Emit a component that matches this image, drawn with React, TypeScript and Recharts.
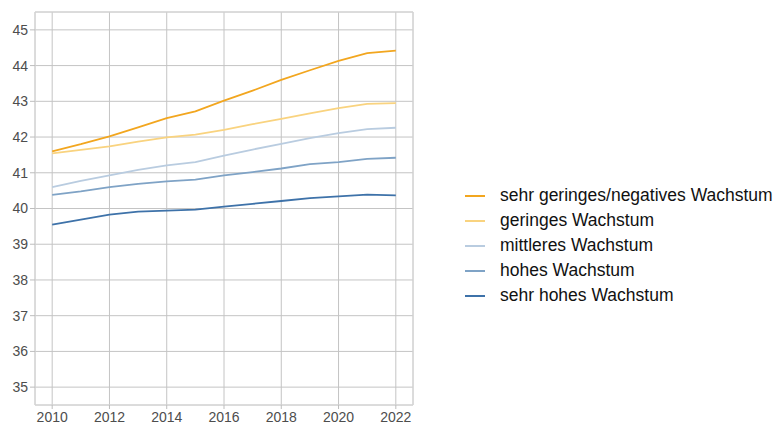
import React from "react";
import { LineChart, Line, XAxis, YAxis, CartesianGrid, ReferenceArea } from "recharts";

const years = [2010, 2011, 2012, 2013, 2014, 2015, 2016, 2017, 2018, 2019, 2020, 2021, 2022];
const sehrGering = [41.6, 41.8, 42.02, 42.27, 42.53, 42.72, 43.02, 43.3, 43.6, 43.87, 44.13, 44.35, 44.42];
const gering = [41.54, 41.64, 41.74, 41.87, 41.99, 42.07, 42.2, 42.36, 42.51, 42.66, 42.81, 42.93, 42.95];
const mittel = [40.6, 40.77, 40.93, 41.08, 41.21, 41.3, 41.48, 41.65, 41.81, 41.97, 42.11, 42.22, 42.26];
const hoch = [40.38, 40.48, 40.6, 40.69, 40.76, 40.81, 40.93, 41.02, 41.12, 41.24, 41.3, 41.39, 41.42];
const sehrHoch = [39.55, 39.69, 39.83, 39.91, 39.94, 39.97, 40.05, 40.13, 40.21, 40.29, 40.34, 40.39, 40.37];

const xTicks = [2010, 2012, 2014, 2016, 2018, 2020, 2022];
const yTicks = [35, 36, 37, 38, 39, 40, 41, 42, 43, 44, 45];

const series = [
  { key: "s1", name: "sehr geringes/negatives Wachstum", color: "#F2A61F", values: sehrGering },
  { key: "s2", name: "geringes Wachstum", color: "#F9D37F", values: gering },
  { key: "s3", name: "mittleres Wachstum", color: "#B9CCE0", values: mittel },
  { key: "s4", name: "hohes Wachstum", color: "#7FA3C6", values: hoch },
  { key: "s5", name: "sehr hohes Wachstum", color: "#3E72A9", values: sehrHoch },
];

const data = years.map((y, i) => {
  const row: Record<string, number> = { year: y };
  series.forEach((s) => {
    row[s.key] = s.values[i];
  });
  return row;
});

const font = "Liberation Sans, Arial, sans-serif";

export default function App() {
  return (
    <div style={{ position: "absolute", left: 0, top: 0, width: 775, height: 424, background: "#fff" }}>
      <LineChart
        width={775}
        height={424}
        data={data}
        margin={{ top: 12, right: 362, bottom: 0, left: 0 }}
        style={{ fontFamily: font }}
      >
        <CartesianGrid stroke="#c4c4c4" strokeWidth={1} />
        <ReferenceArea x1={2009.4} x2={2022.6} y1={34.5} y2={45.5} fill="none" stroke="#d6d6d6" strokeWidth={1} ifOverflow="extendDomain" />
        <XAxis
          dataKey="year"
          type="number"
          domain={[2009.4, 2022.6]}
          ticks={xTicks}
          allowDataOverflow
          height={19}
          tickSize={4}
          tickMargin={3}
          axisLine={false}
          tickLine={{ stroke: "#bdbdbd" }}
          tick={{ fill: "#4d4d4d", fontSize: 14 }}
        />
        <YAxis
          type="number"
          domain={[34.5, 45.5]}
          ticks={yTicks}
          allowDataOverflow
          width={35}
          tickSize={5}
          tickMargin={2}
          axisLine={false}
          tickLine={{ stroke: "#bdbdbd" }}
          tick={{ fill: "#4d4d4d", fontSize: 14 }}
        />
        {series.map((s) => (
          <Line
            key={s.key}
            type="linear"
            dataKey={s.key}
            name={s.name}
            stroke={s.color}
            strokeWidth={1.8}
            dot={false}
            isAnimationActive={false}
          />
        ))}
      </LineChart>
      <div style={{ position: "absolute", left: 465, top: 183, fontFamily: font, fontSize: 17.5, color: "#111" }}>
        {series.map((s) => (
          <div key={s.key} style={{ display: "flex", alignItems: "center", height: 25 }}>
            <div style={{ width: 20, height: 2, background: s.color, marginRight: 15 }} />
            <span style={{ whiteSpace: "nowrap" }}>{s.name}</span>
          </div>
        ))}
      </div>
    </div>
  );
}
